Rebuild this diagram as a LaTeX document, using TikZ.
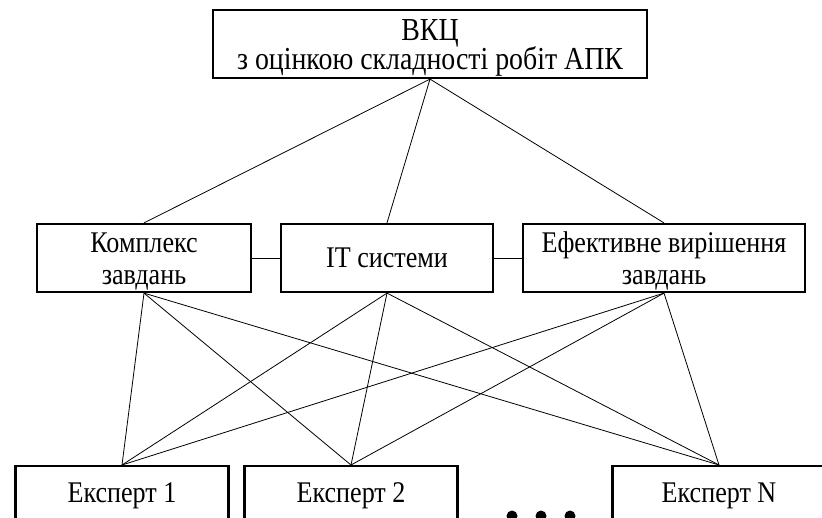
\documentclass[tikz,border=0pt]{standalone}
\usepackage{fontspec}
\setmainfont{Liberation Serif}[FakeStretch=0.87]
\begin{document}
\begin{tikzpicture}[x=1pt,y=-1pt,
  box/.style={draw, line width=2.2pt, inner sep=0pt},
  lbl/.style={anchor=base, inner sep=0pt, font=\fontsize{30}{32}\selectfont},
  biglbl/.style={anchor=base, inner sep=0pt, font=\fontsize{32}{32}\selectfont},
  conn/.style={line width=0.8pt},
  dotmark/.style={fill=black, circle, inner sep=0pt, minimum size=11pt}]
\useasboundingbox (0,0) rectangle (822,517);
\clip (0,0) rectangle (822,517);
% boxes
\node[box, minimum width=434pt, minimum height=68pt] (top) at (430,44) {};
\node[box, minimum width=214pt, minimum height=68pt] (kompl) at (144,258) {};
\node[box, minimum width=212pt, minimum height=68pt] (it) at (387,258) {};
\node[box, minimum width=282pt, minimum height=68pt] (efekt) at (664,258) {};
\node[box, minimum width=213pt, minimum height=60pt, anchor=north] (e1) at (122,465) {};
\node[box, minimum width=213pt, minimum height=60pt, anchor=north] (e2) at (351,465) {};
\node[box, minimum width=213pt, minimum height=60pt, anchor=north] (eN) at (719,465) {};
% texts
\node[biglbl] (top1) at (430,40) {ВКЦ};
\node[biglbl] (top2) at (430,69) {з оцінкою складності робіт АПК};
\node[lbl] (k1) at (144,252) {Комплекс};
\node[lbl] (k2) at (144,284) {завдань};
\node[lbl] (it1) at (387,267) {IT системи};
\node[lbl] (f1) at (664,252) {Ефективне вирішення};
\node[lbl] (f2) at (664,284) {завдань};
\node[lbl] (e1t) at (122,502) {Експерт 1};
\node[lbl] (e2t) at (351,502) {Експерт 2};
\node[lbl] (eNt) at (719,502) {Експерт N};
% dots
\node[dotmark] (d1) at (512,516) {};
\node[dotmark] (d2) at (541,516) {};
\node[dotmark] (d3) at (570,516) {};
% connectors
\draw[conn] (top.south) -- (kompl.north);
\draw[conn] (top.south) -- (it.north);
\draw[conn] (top.south) -- (efekt.north);
\draw[conn] (kompl.east) -- (it.west);
\draw[conn] (it.east) -- (efekt.west);
\foreach \m in {kompl,it,efekt}{
  \foreach \e in {e1,e2,eN}{
    \draw[conn] (\m.south) -- (\e.north);
  }
}
\end{tikzpicture}
\end{document}
